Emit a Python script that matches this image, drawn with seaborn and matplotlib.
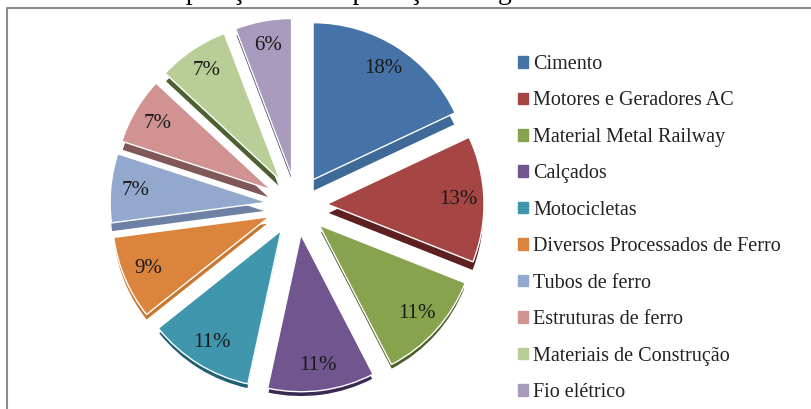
import matplotlib
matplotlib.use('Agg')
import matplotlib.pyplot as plt
import seaborn as sns

categories = ['Cimento', 'Motores e Geradores AC', 'Material Metal Railway', 'Calçados',
              'Motocicletas', 'Diversos Processados de Ferro', 'Tubos de ferro',
              'Estruturas de ferro', 'Materiais de Construção', 'Fio elétrico']
# labels on the chart are these rounded
values = [18, 13, 11.4, 11, 10.9, 8.6, 7.1, 6.9, 7.3, 5.8]
title = 'Gráfico 1 - Composição das Importações Angolanas da China em 2010'

colors = ['#4572a7', '#a64644', '#87a34d', '#70558e', '#4097ad',
          '#db843d', '#92a8cd', '#d09392', '#b9cd96', '#a99bbd']
side_colors = ['#3f6997', '#5e1f20', '#4a5f28', '#3c2a55', '#1f5f72',
               '#c9772f', '#6f80a5', '#80585a', '#4d6030', '#4e4468']
side_depth = [12, 9, 5, 5, 5, 6, 9, 9, 8, 6]

sns.set_theme(style='white')
plt.rcParams['font.family'] = ['Liberation Serif', 'DejaVu Serif']

fig = plt.figure(figsize=(8.12, 4.09), dpi=100)
ax = fig.add_axes([0, 0, 1, 1])

# axes in pixels so radius and explode are pixels too
center = (297, 409 - 205)
radius = 157
explode = [30] * len(values)

# side of the 3d slices first, top of the slices over it
side_wedges, _ = ax.pie(values, colors=sns.color_palette(side_colors), startangle=90,
                        counterclock=False, explode=explode, radius=radius, center=center)
for w, d in zip(side_wedges, side_depth):
    w.set_center((w.center[0], w.center[1] - d))

ax.pie(values, colors=sns.color_palette(colors), startangle=90, counterclock=False,
       explode=explode, radius=radius, center=center, autopct='%.0f%%', pctdistance=0.84,
       textprops={'fontsize': 15, 'color': '#1a1a1a'})

ax.set_aspect('auto')
ax.set_xlim(0, 812)
ax.set_ylim(0, 409)
ax.axis('off')

handles = [plt.Rectangle((0, 0), 1, 1, color=c) for c in colors]
ax.legend(handles, categories, loc='upper left', bbox_to_anchor=(518 / 812, 1 - 55 / 409),
          frameon=False, fontsize=14.5, labelspacing=0.867, handlelength=0.5, handleheight=0.5,
          handletextpad=0.25, borderpad=0, borderaxespad=0, labelcolor='#222222')

# chart border, runs off the right and bottom of the crop
ax.plot([7, 7, 812], [0, 401.5, 401.5], color='#8c8c8c', lw=1.5)

# title is cut by the top of the picture in the original too
ax.text(3, 410, title, fontsize=20, ha='left', va='baseline', color='black')

fig.savefig('out.png', dpi=100)
